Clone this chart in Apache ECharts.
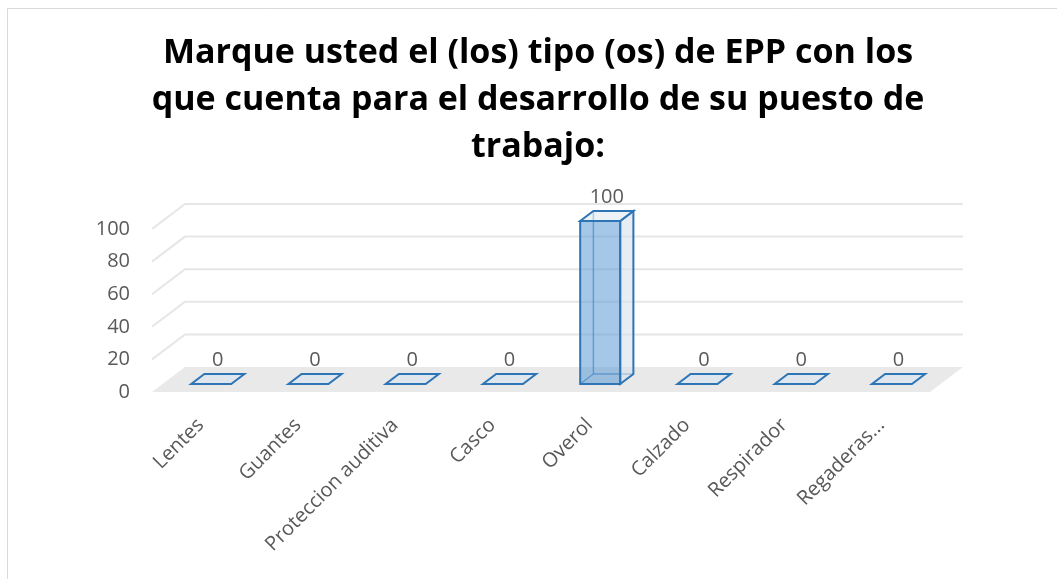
<!DOCTYPE html>
<html>
<head>
<meta charset="utf-8">
<script src="https://cdn.jsdelivr.net/npm/echarts@6/dist/echarts.min.js"></script>
<style>
    html,body{margin:0;padding:0;background:#fff;}
    #chart{width:1057px;height:579px;}
</style>
</head>
<body>
<div id="chart"></div>
<script>
    // datos
    var categories = ['Lentes', 'Guantes', 'Proteccion auditiva', 'Casco', 'Overol', 'Calzado', 'Respirador', 'Regaderas...'];
    var values = [0, 0, 0, 0, 100, 0, 0, 0];
    var yTicks = [0, 20, 40, 60, 80, 100];
    var titleText = 'Marque usted el (los) tipo (os) de EPP con los\nque cuenta para el desarrollo de su puesto de\ntrabajo:';

    // profundidad del "3D"
    var DX = 33, DY = -25;
    var BAR_FRONT = 0.32, BAR_DEPTH = 0.4, BAR_W = 40;
    var stroke = '#2e75b6';
    var labelColor = '#595959';

    var myChart = echarts.init(document.getElementById('chart'));

    function floorItem(params, api) {
        var cs = params.coordSys;
        var y0 = api.coord([0, 0])[1];
        var x0 = cs.x, x1 = cs.x + cs.width;
        return {
            type: 'polygon',
            shape: {points: [[x0, y0], [x0 + DX, y0 + DY], [x1 + DX, y0 + DY], [x1, y0]]},
            style: {fill: '#e9e9e9'}
        };
    }

    function gridItem(params, api) {
        var cs = params.coordSys;
        var y = api.coord([0, api.value(1)])[1];
        if (api.value(1) === 0) return null;
        return {
            type: 'polyline',
            shape: {points: [[cs.x, y], [cs.x + DX, y + DY], [cs.x + cs.width + DX, y + DY]]},
            style: {stroke: '#e6e6e6', lineWidth: 2, fill: null}
        };
    }

    function barItem(params, api) {
        var i = api.value(0), v = api.value(1);
        var base = api.coord([i, 0]);
        var top = api.coord([i, v]);
        var fx = base[0] + DX * BAR_FRONT, fb = base[1] + DY * BAR_FRONT;
        var ft = top[1] + DY * BAR_FRONT;
        var dx = DX * BAR_DEPTH, dy = DY * BAR_DEPTH;
        var l = fx - BAR_W / 2, r = fx + BAR_W / 2;
        var children = [];
        var h = fb - ft;
        if (h < 1) {
            children.push({
                type: 'polygon',
                shape: {points: [[l, fb], [r, fb], [r + dx, fb + dy], [l + dx, fb + dy]]},
                style: {fill: '#dfe6ee', stroke: stroke, lineWidth: 2}
            });
        } else {
            // aristas ocultas
            children.push({
                type: 'polyline',
                shape: {points: [[l, fb], [l + dx, fb + dy], [r + dx, fb + dy]]},
                style: {stroke: stroke, lineWidth: 1.5, opacity: 0.7, fill: null}
            });
            children.push({
                type: 'line',
                shape: {x1: l + dx, y1: fb + dy, x2: l + dx, y2: ft + dy},
                style: {stroke: stroke, lineWidth: 1.5, opacity: 0.7}
            });
            // cara lateral
            children.push({
                type: 'polygon',
                shape: {points: [[r, fb], [r + dx, fb + dy], [r + dx, ft + dy], [r, ft]]},
                style: {fill: 'rgba(215,225,235,0.6)', stroke: stroke, lineWidth: 2}
            });
            // cara superior
            children.push({
                type: 'polygon',
                shape: {points: [[l, ft], [r, ft], [r + dx, ft + dy], [l + dx, ft + dy]]},
                style: {fill: 'rgba(225,233,242,0.6)', stroke: stroke, lineWidth: 2}
            });
            // cara frontal
            children.push({
                type: 'rect',
                shape: {x: l, y: ft, width: BAR_W, height: h},
                style: {fill: 'rgba(91,155,213,0.55)', stroke: stroke, lineWidth: 2}
            });
        }
        children.push({
            type: 'text',
            style: {
                text: String(v), x: fx + dx / 2, y: ft + dy - 4,
                align: 'center', verticalAlign: 'bottom',
                fill: labelColor, font: '20px "Open Sans"'
            }
        });
        return {type: 'group', children: children};
    }

    var option = {
        backgroundColor: '#fff',
        animation: false,
        title: {
            text: titleText,
            left: 533,
            top: 25,
            textAlign: 'center',
            textStyle: {
                fontFamily: 'Open Sans',
                fontWeight: 'bold',
                fontSize: 34,
                lineHeight: 47,
                color: '#000'
            }
        },
        graphic: [{
            type: 'rect',
            shape: {x: 7.5, y: 8.5, width: 1060, height: 580},
            style: {fill: null, stroke: '#d9d9d9', lineWidth: 1}
        }],
        grid: {left: 152, right: 127, top: 229, bottom: 187},
        xAxis: {
            type: 'category',
            data: categories,
            axisLine: {show: false},
            axisTick: {show: false},
            axisLabel: {
                interval: 0, rotate: 45, margin: 30,
                color: labelColor, fontSize: 20, fontFamily: 'Open Sans'
            }
        },
        yAxis: {
            type: 'value',
            min: 0, max: 100, interval: 20,
            axisLine: {show: false},
            axisTick: {show: false},
            splitLine: {show: false},
            axisLabel: {margin: 22, color: labelColor, fontSize: 20, fontFamily: 'Open Sans'}
        },
        series: [
            {type: 'custom', renderItem: floorItem, data: [[0, 0]], clip: false, silent: true, z: 1},
            {type: 'custom', renderItem: gridItem, data: yTicks.map(function (t) { return [0, t]; }), clip: false, silent: true, z: 2},
            {type: 'custom', renderItem: barItem, data: values.map(function (v, i) { return [i, v]; }), clip: false, z: 3}
        ]
    };
    myChart.setOption(option);
</script>
</body>
</html>
